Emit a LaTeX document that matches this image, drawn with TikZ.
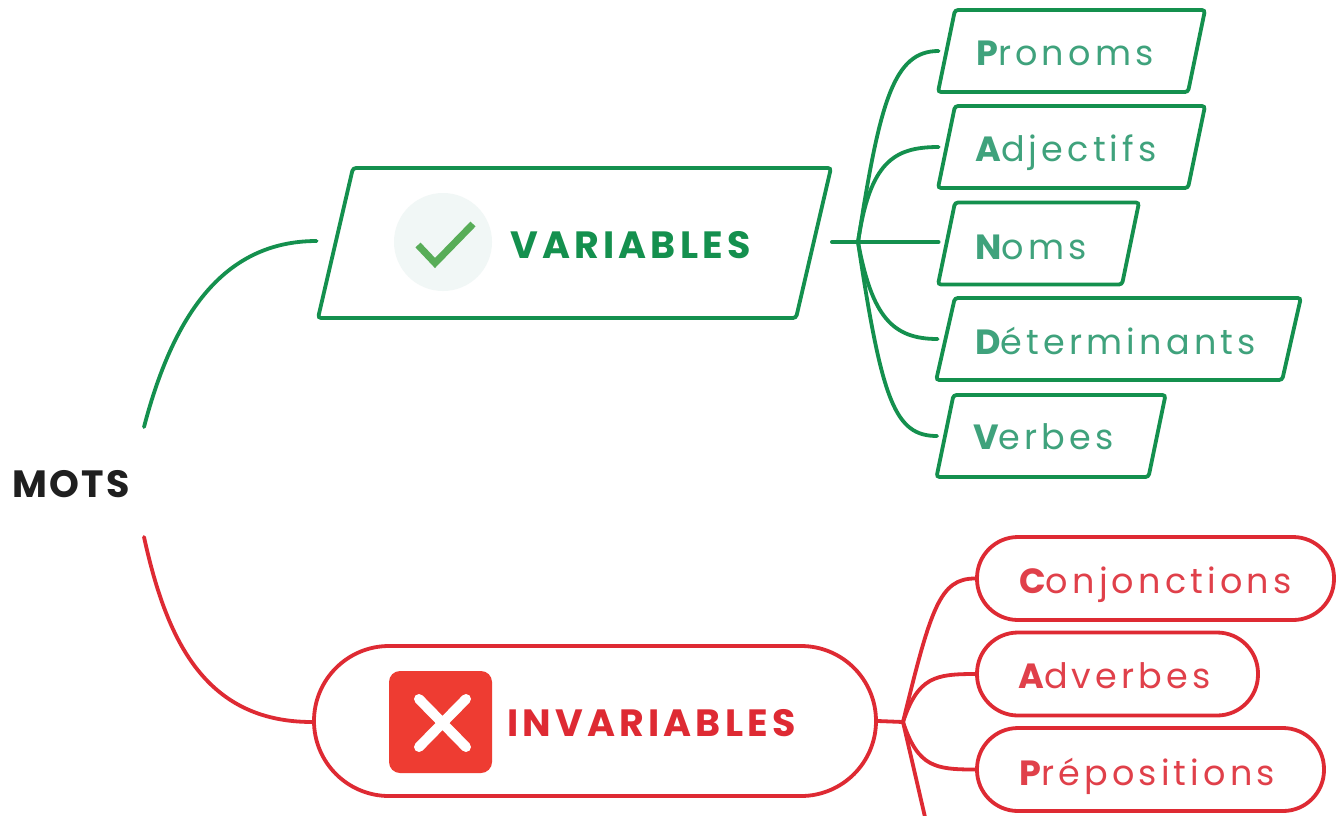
\documentclass[tikz,border=0pt]{standalone}
\usepackage{fontspec}
\setmainfont{Poppins}
\usetikzlibrary{shapes.geometric}
\definecolor{gr}{HTML}{14904E}
\definecolor{grt}{HTML}{3FA27C}
\definecolor{rd}{HTML}{DE2A33}
\definecolor{rdt}{HTML}{E0404A}
\definecolor{chkbg}{HTML}{F1F7F6}
\definecolor{chkfg}{HTML}{58AD58}
\definecolor{crossbg}{HTML}{EE3C32}
\newfontfamily\spaced[LetterSpace=12]{Poppins}
\newfontfamily\spacedb[LetterSpace=8]{Poppins}
\newfontfamily\head[LetterSpace=11]{Poppins}
\newfontfamily\rootf[LetterSpace=6]{Poppins}
\newcommand{\leaftxt}[2]{\fontsize{35}{35}\selectfont{\spacedb\bfseries #1}{\spaced #2}}
\tikzset{
 x=1pt,y=-1pt,
 para/.style={rectangle,transform shape,draw=gr,line width=3.8pt,rounded corners=3pt,inner sep=0pt,fill=white},
 leafg/.style={para,xslant=0.207,minimum height=82pt},
 pill/.style={rectangle,rounded corners=41pt,draw=rd,line width=3.8pt,inner sep=0pt,minimum height=83pt,fill=white},
 glink/.style={draw=gr,line width=3.8pt,line cap=round},
 rlink/.style={draw=rd,line width=3.8pt,line cap=round},
 lab/.style={anchor=base west,inner sep=0pt},
}
\begin{document}
\begin{tikzpicture}
\useasboundingbox (0,0) rectangle (1339,815);
\clip (0,0) rectangle (1339,815);
\fill[white] (0,0) rectangle (1339,815);
\node[text=black!88,font=\fontsize{38}{38}\rootf\bfseries,inner sep=0pt] (root) at (71,484) {MOTS};
\coordinate (rootup) at (144,427);
\coordinate (rootdn) at (144,537);
\coordinate (ghub) at (858,242);
\coordinate (rhub) at (903,722);
\coordinate (rout) at (928,830);
% main nodes
\node[para,xslant=0.233,minimum width=478pt,minimum height=150pt] (var) at (574.5,243) {};
\node[pill,rounded corners=75pt,minimum width=562pt,minimum height=150pt] (inv) at (595,721) {};
% leaves
\node[leafg,minimum width=250pt] (pro) at (1071.5,51) {};
\node[leafg,minimum width=250pt] (adj) at (1071.5,147) {};
\node[leafg,minimum width=184pt] (nom) at (1038.5,243.5) {};
\node[leafg,xslant=0.02,minimum width=346pt] (det) at (1118.5,339) {};
\node[leafg,minimum width=212pt] (ver) at (1051,436) {};
\node[pill,minimum width=357pt] (con) at (1155.5,578.5) {};
\node[pill,minimum width=281pt] (adv) at (1117.5,674) {};
\node[pill,minimum width=347pt] (pre) at (1150.5,769.5) {};
% labels
\node[lab,text=grt] (tpro) at (976,65) {\leaftxt{P}{ronoms}};
\node[lab,text=grt] (tadj) at (975,161) {\leaftxt{A}{djectifs}};
\node[lab,text=grt] (tnom) at (975,259) {\leaftxt{N}{oms}};
\node[lab,text=grt] (tdet) at (975,354) {\leaftxt{D}{éterminants}};
\node[lab,text=grt] (tver) at (973,449) {\leaftxt{V}{erbes}};
\node[lab,text=rdt] (tcon) at (1019,593) {\leaftxt{C}{onjonctions}};
\node[lab,text=rdt] (tadv) at (1018,688) {\leaftxt{A}{dverbes}};
\node[lab,text=rdt] (tpre) at (1019,785) {\leaftxt{P}{répositions}};
% icons
\node[circle,fill=chkbg,minimum size=98pt,inner sep=0pt] (chk) at (443,242) {};
\draw[chkfg,line width=7pt] (418,245) -- (435,263) -- (473,224);
\node[rectangle,fill=crossbg,rounded corners=11pt,minimum width=103pt,minimum height=102pt,inner sep=0pt] (cross) at (440.5,722) {};
\draw[white,line width=10pt,line cap=round] (419,699) -- (466,747) (466,699) -- (419,747);
\node[lab,text=gr,font=\fontsize{38}{38}\head\bfseries] (tvar) at (510,258) {VARIABLES};
\node[lab,text=rd,font=\fontsize{38}{38}\head\bfseries] (tinv) at (507,736) {INVARIABLES};
% connectors
\path[glink] (rootup) .. controls +(28,-107) and +(-96,0) .. ([xshift=-17pt,yshift=2pt]var.west);
\path[rlink] (rootdn) .. controls +(22,100) and +(-109,0) .. ([yshift=-1pt]inv.west);
\path[glink] ([xshift=16.5pt,yshift=1pt]var.east) -- (ghub);
\path[glink] (ghub) .. controls +(22,-141) and +(-45,0) .. ([xshift=-6pt]pro.west);
\path[glink] (ghub) .. controls +(12,-80) and +(-45,0) .. ([xshift=-6pt]adj.west);
\path[glink] (ghub) -- ([xshift=-6pt,yshift=1.5pt]nom.west);
\path[glink] (ghub) .. controls +(14,75) and +(-45,0) .. ([xshift=-6pt]det.west);
\path[glink] (ghub) .. controls +(24,160) and +(-42,0) .. ([xshift=-6pt]ver.west);
\path[rlink] (inv.east) -- (rhub);
\path[rlink] (rhub) .. controls +(28,-115) and +(-35,0) .. (con.west);
\path[rlink] (rhub) .. controls +(15,-45) and +(-40,0) .. (adv.west);
\path[rlink] (rhub) .. controls +(15,45) and +(-40,0) .. (pre.west);
\path[rlink] (rhub) -- (rout);
\end{tikzpicture}
\end{document}
